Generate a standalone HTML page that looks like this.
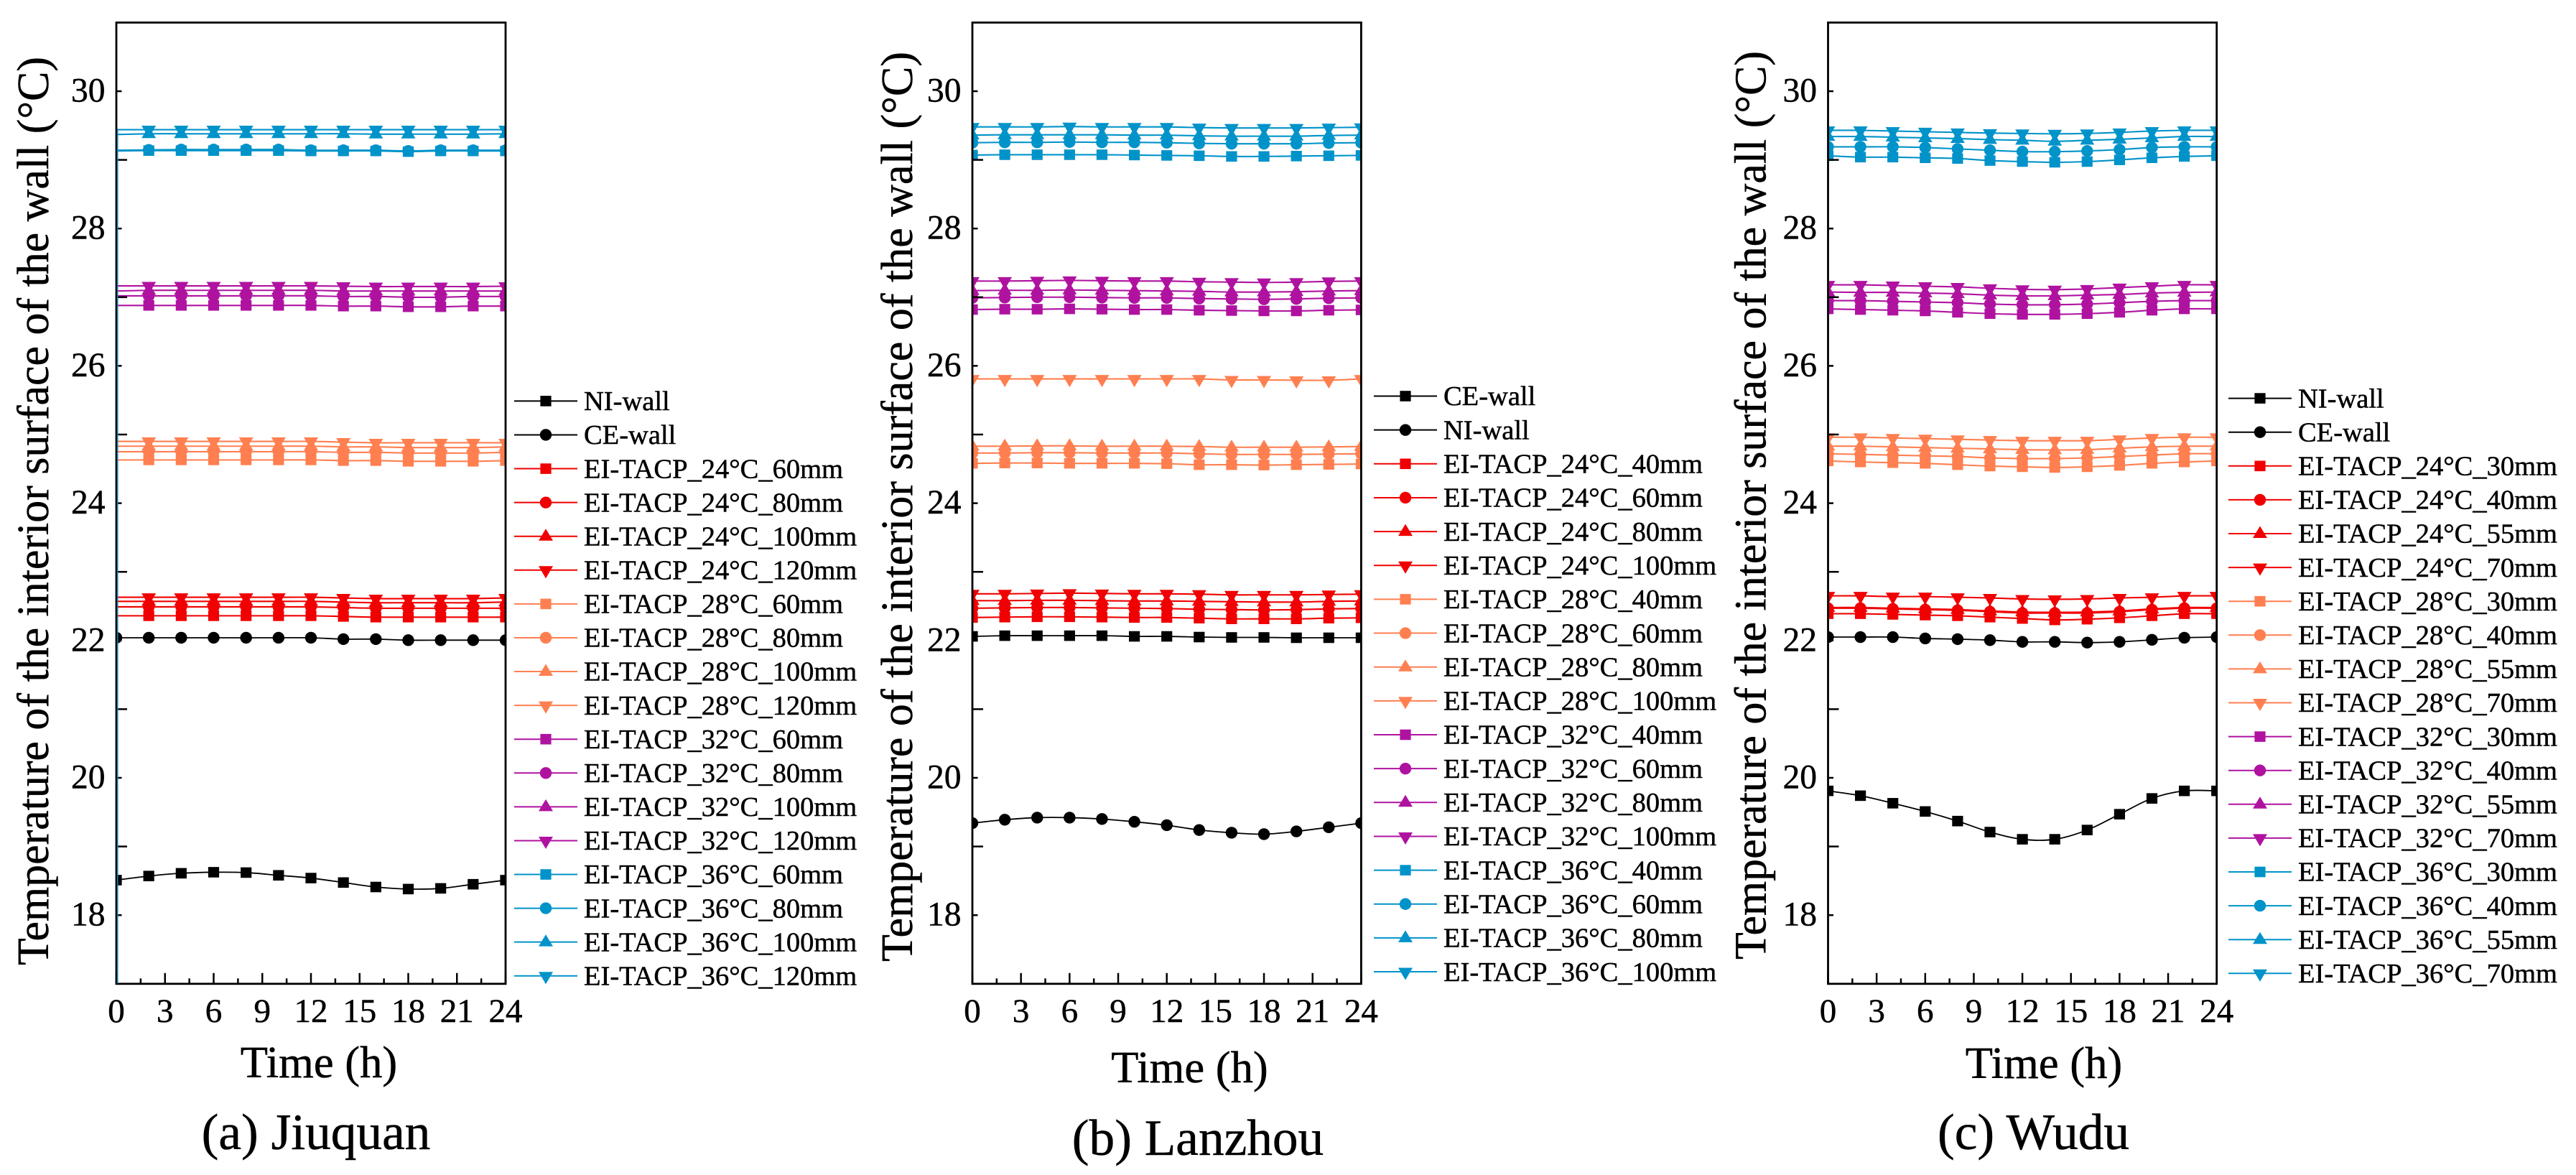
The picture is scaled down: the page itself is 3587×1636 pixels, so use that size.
<!DOCTYPE html>
<html lang="en">
<head>
<meta charset="utf-8">
<title>Interior wall surface temperature: Jiuquan, Lanzhou, Wudu</title>
<style>
html,body{margin:0;padding:0;background:#fff;}
svg{display:block;}
text{font-family:"Liberation Serif","Times New Roman",serif;fill:#000;stroke:#000;stroke-width:0.5px;}
.leg text{font-size:38.5px;}
.ttl{font-size:62.6px;}
.cap{font-size:71.3px;}
</style>
</head>
<body>
<svg id="figure" xmlns="http://www.w3.org/2000/svg" width="3587" height="1636" viewBox="0 0 3587 1636">
<rect x="0" y="0" width="3587" height="1636" fill="#fff"/>

<defs>
<clipPath id="clip-a"><rect x="162" y="31.4" width="542" height="1338.2"/></clipPath>
<clipPath id="clip-b"><rect x="1354" y="31.4" width="541.4" height="1338.2"/></clipPath>
<clipPath id="clip-c"><rect x="2545.5" y="31.4" width="541.2" height="1338.2"/></clipPath>
</defs>

<g id="panel-a"></g>
<g id="panel-b"></g>
<g id="panel-c"></g>

<line x1="163.8" y1="181" x2="163.8" y2="1369" stroke="#0093c9" stroke-width="1.4"/>

<text class="ttl" transform="translate(67,1344) rotate(-90)" textLength="1265" lengthAdjust="spacingAndGlyphs">Temperature of the interior surface of the wall (°C)</text>
<text class="ttl" transform="translate(1270,1339) rotate(-90)" textLength="1267" lengthAdjust="spacingAndGlyphs">Temperature of the interior surface of the wall (°C)</text>
<text class="ttl" transform="translate(2458.7,1336) rotate(-90)" textLength="1265" lengthAdjust="spacingAndGlyphs">Temperature of the interior surface of the wall (°C)</text>

<text class="ttl" x="444" y="1500" text-anchor="middle">Time (h)</text>
<text class="ttl" x="1656.5" y="1507" text-anchor="middle">Time (h)</text>
<text class="ttl" x="2846" y="1501" text-anchor="middle">Time (h)</text>

<text class="cap" x="440" y="1600" text-anchor="middle">(a) Jiuquan</text>
<text class="cap" x="1668" y="1608" text-anchor="middle">(b) Lanzhou</text>
<text class="cap" x="2831.5" y="1600" text-anchor="middle">(c) Wudu</text>

<g class="leg">
<text x="813" y="571.1">NI-wall</text>
<text x="813" y="618.2">CE-wall</text>
<text x="813" y="665.3">EI-TACP_24°C_60mm</text>
<text x="813" y="712.3">EI-TACP_24°C_80mm</text>
<text x="813" y="759.4">EI-TACP_24°C_100mm</text>
<text x="813" y="806.5">EI-TACP_24°C_120mm</text>
<text x="813" y="853.6">EI-TACP_28°C_60mm</text>
<text x="813" y="900.7">EI-TACP_28°C_80mm</text>
<text x="813" y="947.7">EI-TACP_28°C_100mm</text>
<text x="813" y="994.8">EI-TACP_28°C_120mm</text>
<text x="813" y="1041.9">EI-TACP_32°C_60mm</text>
<text x="813" y="1089">EI-TACP_32°C_80mm</text>
<text x="813" y="1136.1">EI-TACP_32°C_100mm</text>
<text x="813" y="1183.1">EI-TACP_32°C_120mm</text>
<text x="813" y="1230.2">EI-TACP_36°C_60mm</text>
<text x="813" y="1277.3">EI-TACP_36°C_80mm</text>
<text x="813" y="1324.4">EI-TACP_36°C_100mm</text>
<text x="813" y="1371.5">EI-TACP_36°C_120mm</text>
</g>

<g class="leg">
<text x="2010" y="564.2">CE-wall</text>
<text x="2010" y="611.4">NI-wall</text>
<text x="2010" y="658.5">EI-TACP_24°C_40mm</text>
<text x="2010" y="705.7">EI-TACP_24°C_60mm</text>
<text x="2010" y="752.8">EI-TACP_24°C_80mm</text>
<text x="2010" y="800">EI-TACP_24°C_100mm</text>
<text x="2010" y="847.1">EI-TACP_28°C_40mm</text>
<text x="2010" y="894.3">EI-TACP_28°C_60mm</text>
<text x="2010" y="941.4">EI-TACP_28°C_80mm</text>
<text x="2010" y="988.6">EI-TACP_28°C_100mm</text>
<text x="2010" y="1035.7">EI-TACP_32°C_40mm</text>
<text x="2010" y="1082.9">EI-TACP_32°C_60mm</text>
<text x="2010" y="1130">EI-TACP_32°C_80mm</text>
<text x="2010" y="1177.2">EI-TACP_32°C_100mm</text>
<text x="2010" y="1224.3">EI-TACP_36°C_40mm</text>
<text x="2010" y="1271.5">EI-TACP_36°C_60mm</text>
<text x="2010" y="1318.6">EI-TACP_36°C_80mm</text>
<text x="2010" y="1365.8">EI-TACP_36°C_100mm</text>
</g>

<g class="leg">
<text x="3200" y="567.3">NI-wall</text>
<text x="3200" y="614.4">CE-wall</text>
<text x="3200" y="661.5">EI-TACP_24°C_30mm</text>
<text x="3200" y="708.6">EI-TACP_24°C_40mm</text>
<text x="3200" y="755.7">EI-TACP_24°C_55mm</text>
<text x="3200" y="802.8">EI-TACP_24°C_70mm</text>
<text x="3200" y="849.9">EI-TACP_28°C_30mm</text>
<text x="3200" y="897">EI-TACP_28°C_40mm</text>
<text x="3200" y="944.1">EI-TACP_28°C_55mm</text>
<text x="3200" y="991.2">EI-TACP_28°C_70mm</text>
<text x="3200" y="1038.3">EI-TACP_32°C_30mm</text>
<text x="3200" y="1085.4">EI-TACP_32°C_40mm</text>
<text x="3200" y="1132.5">EI-TACP_32°C_55mm</text>
<text x="3200" y="1179.6">EI-TACP_32°C_70mm</text>
<text x="3200" y="1226.7">EI-TACP_36°C_30mm</text>
<text x="3200" y="1273.8">EI-TACP_36°C_40mm</text>
<text x="3200" y="1320.9">EI-TACP_36°C_55mm</text>
<text x="3200" y="1368">EI-TACP_36°C_70mm</text>
</g>
</svg>

<script>
// ---------- shared axis data ----------
const hours = [0,2,4,6,8,10,12,14,16,18,20,22,24];
const xTickLabels = ['0','3','6','9','12','15','18','21','24'];
const xMinorTicks = [1.5,4.5,7.5,10.5,13.5,16.5,19.5,22.5];
const yTickLabels = ['18','20','22','24','26','28','30'];
const yOddTicks = [19,21,23,25,27,29];

// ---------- (a) Jiuquan ----------
const jiuquanNI   = [18.51,18.57,18.61,18.625,18.62,18.58,18.54,18.475,18.41,18.38,18.39,18.45,18.51];
const jiuquanCE   = [22.04,22.04,22.04,22.04,22.04,22.04,22.04,22.02,22.02,22.005,22.005,22.005,22.005];
const jiuquan24a  = [22.36,22.36,22.36,22.36,22.36,22.36,22.36,22.35,22.34,22.34,22.34,22.34,22.34];
const jiuquan24b  = [22.49,22.49,22.49,22.49,22.49,22.49,22.49,22.48,22.47,22.47,22.47,22.47,22.47];
const jiuquan24c  = [22.57,22.57,22.57,22.57,22.57,22.57,22.57,22.56,22.55,22.55,22.55,22.55,22.56];
const jiuquan24d  = [22.63,22.63,22.63,22.63,22.63,22.63,22.63,22.62,22.61,22.61,22.61,22.61,22.62];
const jiuquan28a  = [24.63,24.63,24.63,24.63,24.63,24.63,24.63,24.62,24.62,24.61,24.61,24.61,24.62];
const jiuquan28b  = [24.75,24.75,24.75,24.75,24.75,24.75,24.75,24.74,24.74,24.73,24.73,24.73,24.74];
const jiuquan28c  = [24.83,24.83,24.83,24.83,24.83,24.83,24.83,24.82,24.82,24.81,24.81,24.81,24.82];
const jiuquan28d  = [24.90,24.90,24.90,24.90,24.90,24.90,24.90,24.89,24.88,24.88,24.88,24.88,24.88];
const jiuquan32a  = [26.88,26.88,26.88,26.88,26.88,26.88,26.88,26.87,26.87,26.86,26.86,26.87,26.87];
const jiuquan32b  = [27.02,27.02,27.02,27.02,27.02,27.02,27.02,27.01,27.01,27.00,27.00,27.01,27.01];
const jiuquan32c  = [27.09,27.10,27.10,27.10,27.10,27.10,27.10,27.09,27.09,27.09,27.09,27.09,27.09];
const jiuquan32d  = [27.165,27.165,27.165,27.165,27.165,27.165,27.165,27.16,27.155,27.155,27.155,27.155,27.16];
const jiuquan36a  = [29.13,29.135,29.135,29.135,29.135,29.135,29.13,29.13,29.13,29.12,29.13,29.13,29.13];
const jiuquan36b  = [29.14,29.145,29.15,29.15,29.15,29.15,29.14,29.14,29.14,29.13,29.14,29.14,29.14];
const jiuquan36c  = [29.37,29.38,29.38,29.38,29.38,29.38,29.38,29.38,29.375,29.375,29.375,29.375,29.38];
const jiuquan36d  = [29.44,29.44,29.44,29.44,29.44,29.44,29.44,29.44,29.44,29.44,29.44,29.44,29.44];

// ---------- (b) Lanzhou ----------
const lanzhouCE   = [22.06,22.07,22.07,22.07,22.07,22.06,22.06,22.05,22.045,22.045,22.04,22.04,22.04];
const lanzhouNI   = [19.34,19.39,19.42,19.42,19.40,19.36,19.31,19.24,19.20,19.18,19.22,19.28,19.34];
const lanzhou24a  = [22.335,22.34,22.345,22.345,22.34,22.335,22.335,22.325,22.315,22.315,22.315,22.325,22.33];
const lanzhou24b  = [22.47,22.475,22.48,22.48,22.475,22.47,22.465,22.455,22.45,22.445,22.45,22.46,22.465];
const lanzhou24c  = [22.58,22.58,22.585,22.585,22.58,22.575,22.575,22.57,22.565,22.56,22.56,22.57,22.575];
const lanzhou24d  = [22.68,22.68,22.685,22.69,22.685,22.68,22.68,22.675,22.665,22.665,22.665,22.67,22.675];
const lanzhou28a  = [24.58,24.585,24.585,24.58,24.58,24.58,24.575,24.56,24.56,24.555,24.56,24.565,24.57];
const lanzhou28b  = [24.73,24.73,24.735,24.735,24.73,24.73,24.73,24.72,24.71,24.71,24.71,24.715,24.72];
const lanzhou28c  = [24.83,24.83,24.835,24.835,24.83,24.83,24.83,24.825,24.815,24.815,24.815,24.82,24.825];
const lanzhou28d  = [25.81,25.81,25.81,25.81,25.81,25.81,25.81,25.81,25.795,25.795,25.79,25.79,25.81];
const lanzhou32a  = [26.82,26.825,26.825,26.83,26.825,26.82,26.82,26.81,26.805,26.80,26.80,26.81,26.815];
const lanzhou32b  = [26.99,26.995,27.0,27.0,26.995,26.99,26.99,26.98,26.975,26.97,26.975,26.985,26.99];
const lanzhou32c  = [27.095,27.10,27.10,27.105,27.10,27.095,27.09,27.085,27.075,27.075,27.08,27.09,27.095];
const lanzhou32d  = [27.235,27.235,27.24,27.245,27.24,27.235,27.235,27.225,27.22,27.215,27.22,27.23,27.235];
const lanzhou36a  = [29.07,29.075,29.075,29.075,29.075,29.07,29.065,29.06,29.05,29.05,29.055,29.06,29.065];
const lanzhou36b  = [29.25,29.255,29.255,29.26,29.255,29.255,29.25,29.24,29.235,29.235,29.235,29.245,29.25];
const lanzhou36c  = [29.36,29.365,29.365,29.365,29.365,29.36,29.36,29.35,29.345,29.345,29.345,29.355,29.36];
const lanzhou36d  = [29.48,29.48,29.48,29.485,29.48,29.48,29.48,29.47,29.465,29.465,29.465,29.47,29.475];

// ---------- (c) Wudu ----------
const wuduNI      = [19.81,19.74,19.63,19.51,19.37,19.21,19.105,19.105,19.24,19.47,19.70,19.81,19.81];
const wuduCE      = [22.05,22.05,22.05,22.03,22.02,22.005,21.98,21.98,21.97,21.98,22.01,22.04,22.05];
const wudu24a     = [22.39,22.39,22.38,22.37,22.36,22.34,22.32,22.30,22.31,22.33,22.36,22.39,22.39];
const wudu24b     = [22.47,22.47,22.46,22.45,22.44,22.42,22.40,22.40,22.40,22.42,22.45,22.47,22.47];
const wudu24c     = [22.48,22.48,22.47,22.46,22.45,22.43,22.415,22.41,22.415,22.43,22.46,22.48,22.48];
const wudu24d     = [22.65,22.65,22.64,22.64,22.63,22.62,22.605,22.60,22.605,22.62,22.63,22.65,22.65];
const wudu28a     = [24.615,24.60,24.59,24.58,24.56,24.54,24.53,24.52,24.53,24.55,24.58,24.60,24.615];
const wudu28b     = [24.72,24.71,24.70,24.69,24.68,24.66,24.65,24.65,24.66,24.68,24.70,24.72,24.72];
const wudu28c     = [24.83,24.83,24.82,24.81,24.80,24.79,24.78,24.775,24.78,24.80,24.82,24.83,24.83];
const wudu28d     = [24.96,24.96,24.95,24.94,24.93,24.92,24.91,24.91,24.91,24.93,24.95,24.96,24.96];
const wudu32a     = [26.83,26.82,26.81,26.80,26.78,26.76,26.75,26.75,26.76,26.78,26.81,26.83,26.83];
const wudu32b     = [26.95,26.95,26.94,26.93,26.92,26.90,26.89,26.89,26.90,26.92,26.94,26.95,26.95];
const wudu32c     = [27.075,27.07,27.07,27.06,27.05,27.03,27.02,27.02,27.03,27.04,27.06,27.07,27.075];
const wudu32d     = [27.18,27.18,27.17,27.16,27.15,27.13,27.115,27.11,27.12,27.14,27.16,27.18,27.18];
const wudu36a     = [29.06,29.04,29.04,29.03,29.02,28.99,28.975,28.965,28.975,29.0,29.03,29.05,29.06];
const wudu36b     = [29.19,29.19,29.19,29.18,29.16,29.14,29.12,29.12,29.13,29.15,29.18,29.19,29.19];
const wudu36c     = [29.34,29.34,29.33,29.32,29.31,29.295,29.285,29.27,29.285,29.30,29.32,29.34,29.34];
const wudu36d     = [29.43,29.43,29.42,29.41,29.40,29.39,29.385,29.38,29.385,29.40,29.42,29.43,29.43];

// ---------- series ordering per panel (same colour/marker cycle) ----------
const jiuquanSeries = [jiuquanNI,jiuquanCE,jiuquan24a,jiuquan24b,jiuquan24c,jiuquan24d,jiuquan28a,jiuquan28b,jiuquan28c,jiuquan28d,jiuquan32a,jiuquan32b,jiuquan32c,jiuquan32d,jiuquan36a,jiuquan36b,jiuquan36c,jiuquan36d];
const lanzhouSeries = [lanzhouCE,lanzhouNI,lanzhou24a,lanzhou24b,lanzhou24c,lanzhou24d,lanzhou28a,lanzhou28b,lanzhou28c,lanzhou28d,lanzhou32a,lanzhou32b,lanzhou32c,lanzhou32d,lanzhou36a,lanzhou36b,lanzhou36c,lanzhou36d];
const wuduSeries    = [wuduNI,wuduCE,wudu24a,wudu24b,wudu24c,wudu24d,wudu28a,wudu28b,wudu28c,wudu28d,wudu32a,wudu32b,wudu32c,wudu32d,wudu36a,wudu36b,wudu36c,wudu36d];

const NS = 'http://www.w3.org/2000/svg';
const BLACK='#000000', RED='#f00000', CORAL='#ff7f50', PURPLE='#b012a0', BLUE='#0093c9';

function colorOf(i){
  if(i<2) return BLACK;
  return [RED,CORAL,PURPLE,BLUE][Math.floor((i-2)/4)];
}
function shapeOf(i){
  if(i<2) return i===0?'square':'circle';
  return ['square','circle','up','down'][(i-2)%4];
}
function yScale(v){ return 127+(30-v)*95.6; }

function make(tag,parent){
  const el=document.createElementNS(NS,tag);
  parent.appendChild(el);
  return el;
}
function drawMarker(parent,shape,cx,cy,color){
  let m;
  if(shape==='square'){
    m=make('rect',parent);
    m.setAttribute('x',cx-7.6);m.setAttribute('y',cy-7.3);
    m.setAttribute('width',15.2);m.setAttribute('height',14.6);
  }else if(shape==='circle'){
    m=make('circle',parent);
    m.setAttribute('cx',cx);m.setAttribute('cy',cy);m.setAttribute('r',8.2);
  }else if(shape==='up'){
    m=make('polygon',parent);
    m.setAttribute('points',[cx,cy-10.5,cx-10,cy+6,cx+10,cy+6].join(' '));
  }else{
    m=make('polygon',parent);
    m.setAttribute('points',[cx,cy+11.5,cx-10,cy-5.5,cx+10,cy-5.5].join(' '));
  }
  m.setAttribute('fill',color);
  
  
  return m;
}
function splinePath(pts){
  let d='M'+pts[0][0]+' '+pts[0][1];
  for(let i=0;i<pts.length-1;i++){
    const p0=pts[Math.max(i-1,0)],p1=pts[i],p2=pts[i+1],p3=pts[Math.min(i+2,pts.length-1)];
    const c1x=p1[0]+(p2[0]-p0[0])/6,c1y=p1[1]+(p2[1]-p0[1])/6;
    const c2x=p2[0]-(p3[0]-p1[0])/6,c2y=p2[1]-(p3[1]-p1[1])/6;
    d+=' C'+c1x+' '+c1y+' '+c2x+' '+c2y+' '+p2[0]+' '+p2[1];
  }
  return d;
}
function drawPanel(cfg){
  const root=document.getElementById(cfg.id);
  const xScale=function(h){ return cfg.left+(h/24)*(cfg.right-cfg.left); };
  const top=yScale(31), bottom=yScale(17);

  const plot=make('g',root);
  plot.setAttribute('clip-path','url(#'+cfg.clip+')');
  
  

  cfg.series.forEach(function(values,i){
    const color=colorOf(i);
    const pts=values.map(function(v,k){ return [xScale(hours[k]),yScale(v)]; });
    const line=make('path',plot);
    line.setAttribute('d',splinePath(pts));
    line.setAttribute('fill','none');
    line.setAttribute('stroke',color);
    line.setAttribute('stroke-width',i<2?1.8:2.1);
    
    
    pts.forEach(function(p,k){
      if(cfg.skipFirstColored && i>=2 && k===0) return;
      drawMarker(plot,shapeOf(i),p[0],p[1],color);
    });
  });

  const box=make('rect',root);
  box.setAttribute('x',cfg.left);box.setAttribute('y',top);
  box.setAttribute('width',cfg.right-cfg.left);box.setAttribute('height',bottom-top);
  box.setAttribute('fill','none');box.setAttribute('stroke','#000');box.setAttribute('stroke-width',2.8);
  
  

  function tick(x1,y1,x2,y2){
    const t=make('line',root);
    t.setAttribute('x1',x1);t.setAttribute('y1',y1);t.setAttribute('x2',x2);t.setAttribute('y2',y2);
    t.setAttribute('stroke','#000');t.setAttribute('stroke-width',2.5);
    
    
  }
  xTickLabels.forEach(function(label){
    const x=xScale(Number(label));
    tick(x,bottom,x,bottom-15);
    const t=make('text',root);
    t.setAttribute('x',x);t.setAttribute('y',1423);
    t.setAttribute('text-anchor','middle');t.setAttribute('font-size',47);
    
    
    t.textContent=label;
  });
  xMinorTicks.forEach(function(h){ tick(xScale(h),bottom,xScale(h),bottom-7.5); });
  yTickLabels.forEach(function(label){
    const y=yScale(Number(label));
    tick(cfg.left,y,cfg.left+7.5,y);
    const t=make('text',root);
    t.setAttribute('x',cfg.left-15.5);t.setAttribute('y',y+14.5);
    t.setAttribute('text-anchor','end');t.setAttribute('font-size',47.5);
    
    
    t.textContent=label;
  });
  yOddTicks.forEach(function(v){ tick(cfg.left,yScale(v),cfg.left+15,yScale(v)); });

  cfg.series.forEach(function(values,i){
    const y=cfg.legendTop+i*cfg.legendStep;
    const color=colorOf(i);
    const l=make('line',root);
    l.setAttribute('x1',cfg.legendX);l.setAttribute('y1',y);
    l.setAttribute('x2',cfg.legendX+88);l.setAttribute('y2',y);
    l.setAttribute('stroke',color);l.setAttribute('stroke-width',2);
    
    
    drawMarker(root,shapeOf(i),cfg.legendX+44,y,color);
  });
}

drawPanel({id:'panel-a',clip:'clip-a',left:162,right:704,series:jiuquanSeries,skipFirstColored:true,legendX:716,legendTop:558.4,legendStep:47.08});
drawPanel({id:'panel-b',clip:'clip-b',left:1354,right:1895.4,series:lanzhouSeries,skipFirstColored:false,legendX:1913,legendTop:551.5,legendStep:47.15});
drawPanel({id:'panel-c',clip:'clip-c',left:2545.5,right:3086.7,series:wuduSeries,skipFirstColored:false,legendX:3103,legendTop:554.6,legendStep:47.1});
</script>
</body>
</html>
